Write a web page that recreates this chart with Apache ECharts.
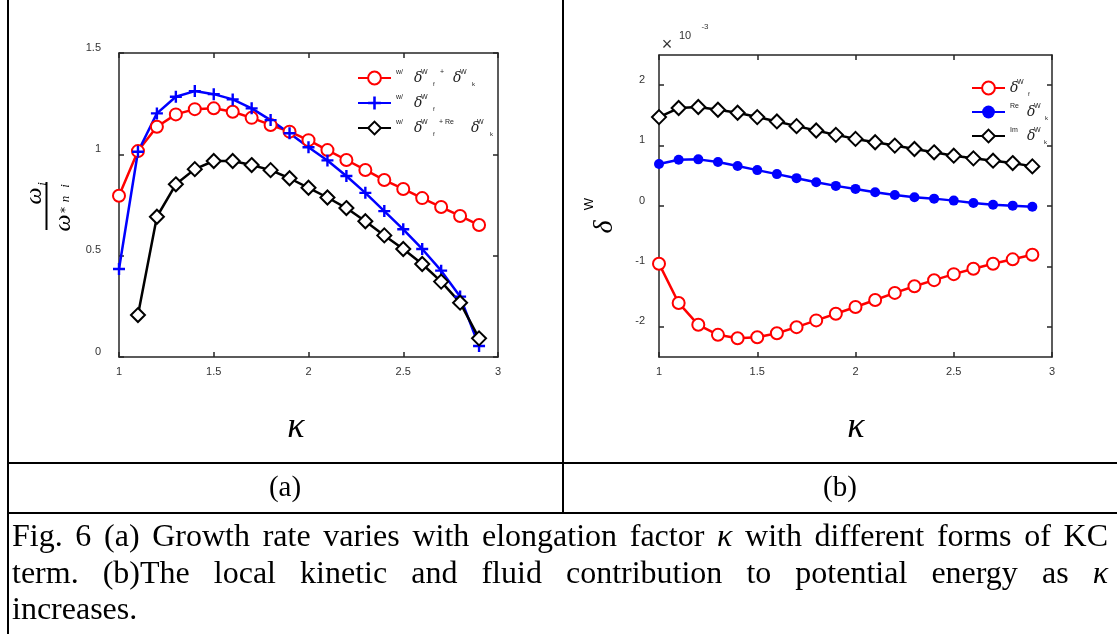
<!DOCTYPE html>
<html><head><meta charset="utf-8">
<script src="https://cdn.jsdelivr.net/npm/echarts@6/dist/echarts.min.js"></script>
<style>html,body{margin:0;padding:0;background:#fff}#c{width:1117px;height:634px}</style>
</head><body><div id="c"></div><script>
// ---------- data ----------
const kappa = [1.0,1.1,1.2,1.3,1.4,1.5,1.6,1.7,1.8,1.9,2.0,2.1,2.2,2.3,2.4,2.5,2.6,2.7,2.8,2.9];
// panel (a): growth rate omega_i / omega_*ni
const growthBoth  = [0.796,1.016,1.136,1.197,1.223,1.227,1.210,1.180,1.145,1.112,1.070,1.021,0.972,0.923,0.873,0.829,0.784,0.740,0.696,0.651];
const growthFluid = [0.434,1.013,1.202,1.284,1.312,1.297,1.271,1.227,1.169,1.104,1.035,0.970,0.893,0.810,0.720,0.630,0.533,0.426,0.298,0.054];
const growthRe    = [null,0.207,0.692,0.852,0.927,0.967,0.967,0.947,0.922,0.882,0.835,0.787,0.735,0.670,0.600,0.533,0.459,0.372,0.268,0.092];
// panel (b): delta^W in units of 10^-3
const deltaFluid  = [-0.955,-1.605,-1.967,-2.133,-2.189,-2.172,-2.106,-2.006,-1.894,-1.783,-1.672,-1.556,-1.439,-1.328,-1.228,-1.128,-1.039,-0.955,-0.883,-0.806];
const deltaKinRe  = [0.694,0.767,0.772,0.728,0.661,0.594,0.528,0.461,0.394,0.333,0.283,0.228,0.183,0.144,0.122,0.089,0.050,0.022,0.006,-0.011];
const deltaKinIm  = [1.472,1.622,1.639,1.594,1.544,1.472,1.400,1.322,1.250,1.178,1.111,1.056,1.000,0.944,0.889,0.833,0.789,0.750,0.711,0.656];
const xTicks  = [1,1.5,2,2.5,3];
const yTicksA = [0,0.5,1,1.5];
const yTicksB = [-2,-1,0,1,2];
const captionLines = [
  ['Fig.','6','(a)','Growth','rate','varies','with','elongation','factor','*κ','with','different','forms','of','KC'],
  ['term.','(b)The','local','kinetic','and','fluid','contribution','to','potential','energy','as','*κ'],
  ['increases.']
];

// ---------- helpers ----------
const pairs = (ys) => kappa.map((x,i) => [x, ys[i]]);
const AX = '#262626', LBL = '#333';
const tickFont = {fontFamily:'Liberation Sans', fontSize:11, color:LBL};

function xAx(grid, pos, labels) {
  return {type:'value', gridIndex:grid, position:pos, min:1, max:3,
    axisLine:{show:true, onZero:false, lineStyle:{color:AX, width:1.5}},
    axisTick:{show:true, inside:true, length:5, customValues:xTicks, lineStyle:{color:AX, width:1.5}},
    axisLabel:{show:labels, customValues:xTicks, margin:9, ...tickFont},
    splitLine:{show:false}};
}
function yAx(grid, pos, min, max, ticks, labels, margin) {
  return {type:'value', gridIndex:grid, position:pos, min:min, max:max,
    axisLine:{show:true, onZero:false, lineStyle:{color:AX, width:1.5}},
    axisTick:{show:true, inside:true, length:5, customValues:ticks, lineStyle:{color:AX, width:1.5}},
    axisLabel:{show:labels, customValues:ticks, margin:margin, verticalAlign:'bottom', ...tickFont},
    splitLine:{show:false}};
}
const plusPath = 'path://M4,0H6V4H10V6H6V10H4V6H0V4H4Z';

function line(name, xi, yi, data, color, symbol, size) {
  const filled = symbol.indexOf('empty') < 0;
  return {name, type:'line', xAxisIndex:xi, yAxisIndex:yi, data, clip:false,
    symbol, symbolSize:size, showAllSymbol:true,
    lineStyle:{color, width:2.5}, itemStyle:{color, borderColor:color, borderWidth: filled ? 0 : 2.2},
    emphasis:{disabled:true}, animation:false};
}

const richBase = {
  sp:{fontSize:7, fontFamily:'Liberation Sans', color:'#222', verticalAlign:'top', lineHeight:6},
  d:{fontSize:14, fontFamily:'DejaVu Serif', fontStyle:'italic', color:'#222', lineHeight:18},
  sb:{fontSize:6, fontFamily:'Liberation Sans', color:'#222', verticalAlign:'bottom', lineHeight:10}
};
function tok(base, w) { return Object.assign({}, richBase[base], {width:w, align:'left'}); }
const rich = {
  w18: tok('sp',18), d7: tok('d',7), d6: tok('d',6),
  W12: tok('sp',12), W13: tok('sp',13), W11: tok('sp',11), W10: tok('sp',10),
  f7: tok('sb',7), f6: tok('sb',6), k: tok('sb',8),
  p13: tok('sp',13), p32: tok('sp',32), re17: tok('sp',17)
};
const legendText = {
  a1:'{w18|w/}{d7|δ}{W12|W}{f7|f}{p13|+}{d7|δ}{W12|W}{k|k}',
  a2:'{w18|w/}{d7|δ}{W12|W}{f7|f}',
  a3:'{w18|w/}{d7|δ}{W12|W}{f6|f}{p32|+ Re}{d6|δ}{W13|W}{k|k}',
  b1:'{d7|δ}{W11|W}{k|f}',
  b2:'{re17|Re}{d7|δ}{W11|W}{k|k}',
  b3:'{re17|Im}{d7|δ}{W10|W}{k|k}'
};

// ---------- graphics (table, labels, caption) ----------
const G = [];
const L = (x1,y1,x2,y2,w) => G.push({type:'line', shape:{x1,y1,x2,y2}, style:{stroke:'#000', lineWidth:w||2}, silent:true});
L(8,0,8,634); L(563,0,563,513); L(8,463,1117,463); L(8,513,1117,513);
const T = (text,x,y,size,opts) => G.push(Object.assign({type:'text', x, y, silent:true,
  style:Object.assign({text, fontSize:size, fontFamily:'Liberation Serif', fill:'#000', align:'center', verticalAlign:'middle'}, (opts||{}).style||{})},
  (opts||{}).el||{}));
const R = Math.PI/2;
// kappa axis titles
T('κ',296,428,36,{style:{fontStyle:'italic'}});
T('κ',856,428,36,{style:{fontStyle:'italic'}});
// (a) y label: omega_i / omega_{*n i}, rotated
T('ω',35,196,24,{style:{fontStyle:'italic'},el:{rotation:R}});
T('i',43,184,13,{style:{fontStyle:'italic'},el:{rotation:R}});
L(46.5,182,46.5,230,2);
T('ω',64,223,24,{style:{fontStyle:'italic'},el:{rotation:R}});
T('*',66,210,12,{style:{fontFamily:'DejaVu Sans'},el:{rotation:R}});
T('n',66,199,13,{style:{fontStyle:'italic'},el:{rotation:R}});
T('i',66,186,13,{style:{fontStyle:'italic'},el:{rotation:R}});
// (b) y label: delta^W
T('δ',605,227,28,{style:{fontStyle:'italic'},el:{rotation:R}});
T('W',589,204,13,{style:{fontFamily:'Liberation Sans'},el:{rotation:R}});
// x10^-3
T('×',667,45,18,{style:{fontFamily:'Liberation Sans', fill:'#333'}});
T('10',685,36,11,{style:{fontFamily:'Liberation Sans', fill:'#333'}});
T('-3',705,27,8,{style:{fontFamily:'Liberation Sans', fill:'#333'}});
// panel labels
T('(a)',285,488,29);
T('(b)',840,488,29);
// caption, justified
(function(){
  const ctx = document.createElement('canvas').getContext('2d');
  const size = 32, x0 = 12, x1 = 1108, ys = [538,575,611];
  captionLines.forEach((words, li) => {
    const items = words.map(w => {
      const it = w[0] === '*'; const t = it ? w.slice(1) : w;
      ctx.font = (it ? 'italic ' : '') + size + 'px "Liberation Serif"';
      return {t, it, w: ctx.measureText(t).width};
    });
    const total = items.reduce((s,a)=>s+a.w,0);
    ctx.font = size + 'px "Liberation Serif"';
    const gap = (li < captionLines.length-1 && items.length > 1) ? (x1-x0-total)/(items.length-1) : ctx.measureText(' ').width;
    let x = x0;
    items.forEach(a => {
      T(a.t, x, ys[li], size, {style:{align:'left', fontStyle: a.it ? 'italic' : 'normal'}});
      x += a.w + gap;
    });
  });
})();

// ---------- chart ----------
const chart = echarts.init(document.getElementById('c'), null, {renderer:'canvas'});
chart.setOption({
  animation:false,
  backgroundColor:'#fff',
  grid:[{left:119, top:53, width:379, height:304}, {left:659, top:55, width:393, height:302}],
  xAxis:[xAx(0,'bottom',true), xAx(0,'top',false), xAx(1,'bottom',true), xAx(1,'top',false)],
  yAxis:[yAx(0,'left',0,1.5,yTicksA,true,18), yAx(0,'right',0,1.5,yTicksA,false,8),
         yAx(1,'left',-2.5,2.5,yTicksB,true,14), yAx(1,'right',-2.5,2.5,yTicksB,false,8)],
  legend:[
    {data:['a1','a2','a3'], orient:'vertical', left:352, top:64, itemWidth:33, itemHeight:16, itemGap:7,
     formatter:(n)=>legendText[n], textStyle:{rich:rich}, selectedMode:false},
    {data:['b1','b2','b3'], orient:'vertical', left:966, top:74, itemWidth:33, itemHeight:16, itemGap:6,
     formatter:(n)=>legendText[n], textStyle:{rich:rich}, selectedMode:false}
  ],
  series:[
    line('a1',0,0,pairs(growthBoth),'#ff0000','emptyCircle',12),
    line('a2',0,0,pairs(growthFluid),'#0000ff',plusPath,12),
    line('a3',0,0,pairs(growthRe),'#000000','emptyDiamond',14),
    line('b1',2,2,pairs(deltaFluid),'#ff0000','emptyCircle',12),
    line('b2',2,2,pairs(deltaKinRe),'#0000ff','circle',10),
    line('b3',2,2,pairs(deltaKinIm),'#000000','emptyDiamond',14)
  ],
  graphic:G
});
</script></body></html>
